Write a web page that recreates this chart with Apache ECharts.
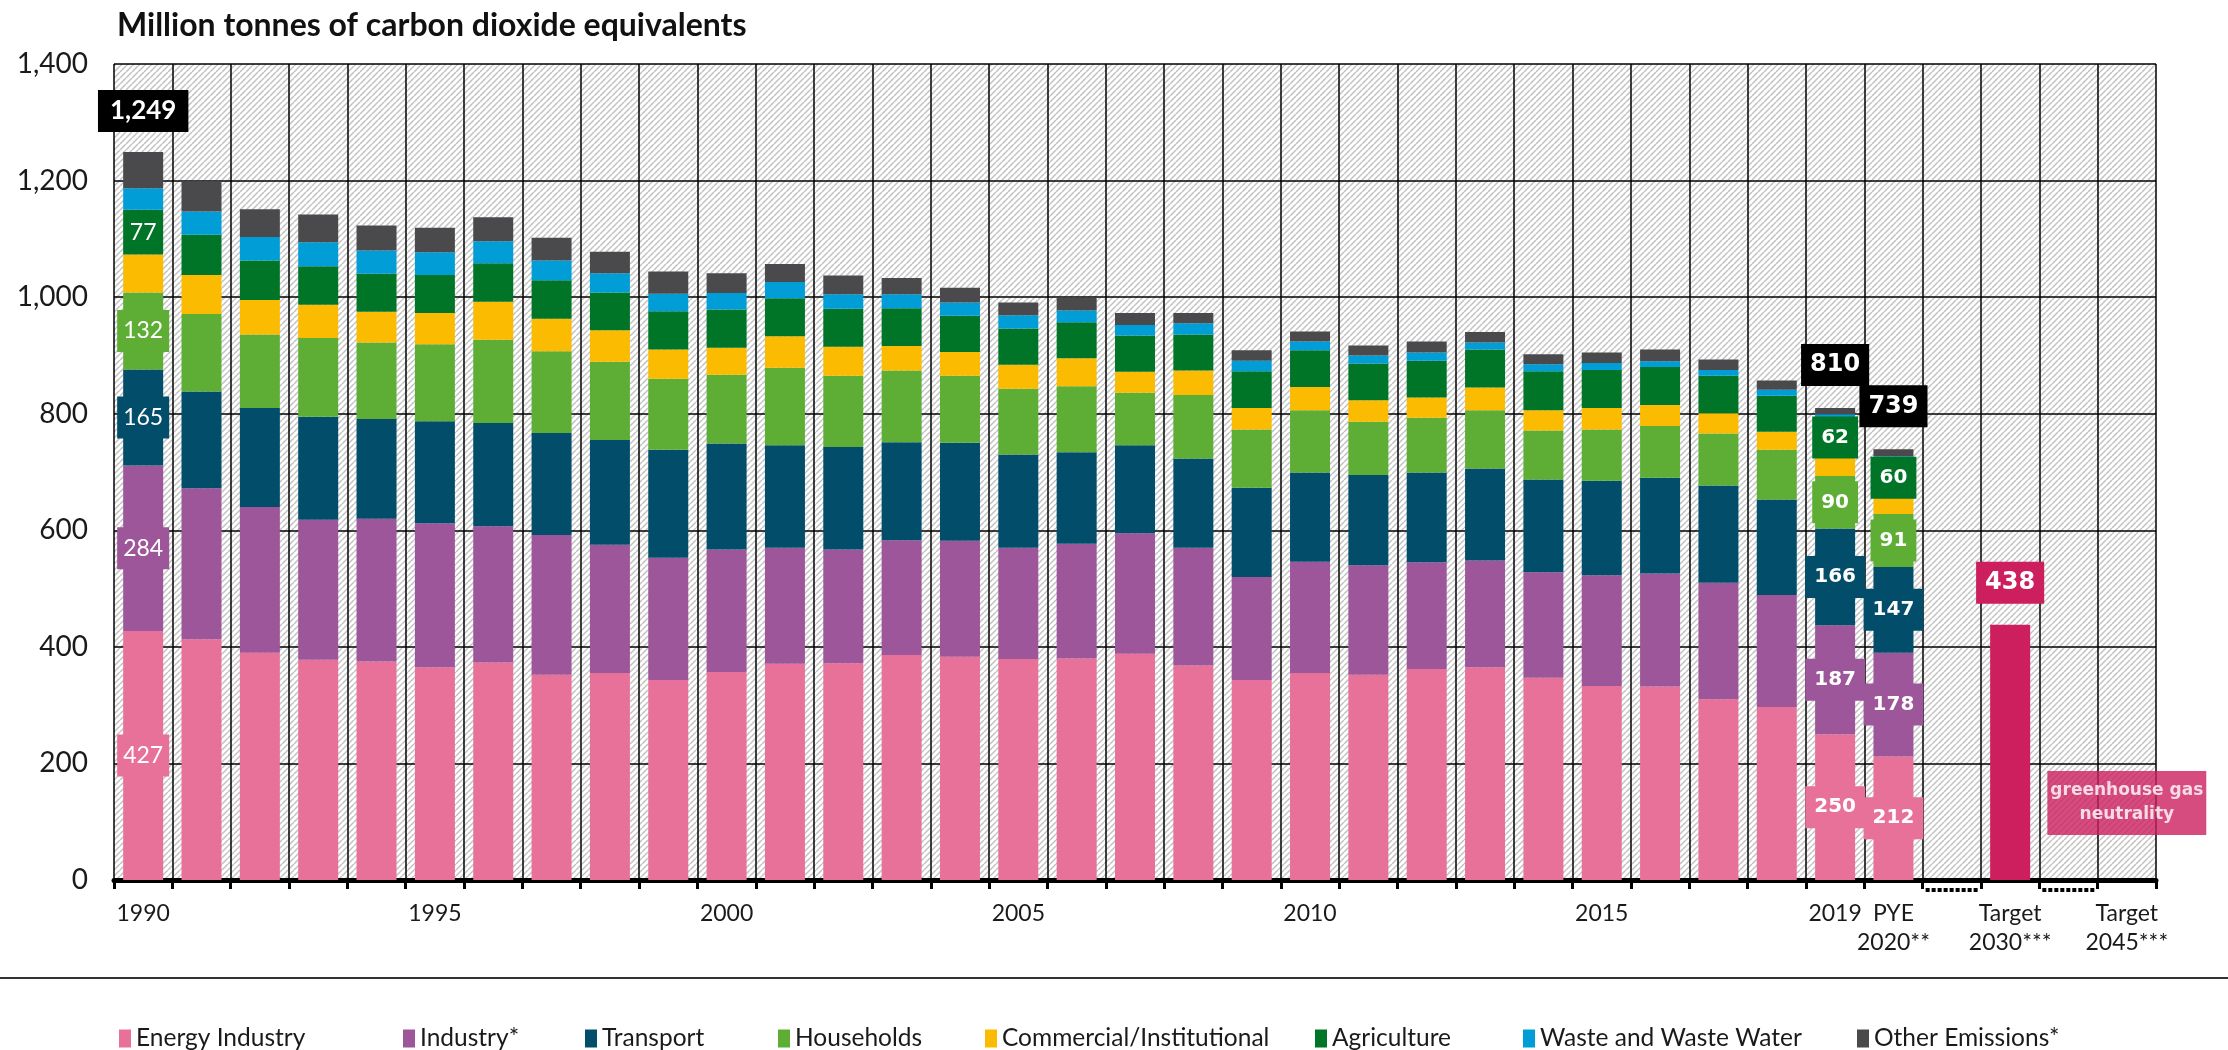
<!DOCTYPE html>
<html>
<head>
<meta charset="utf-8">
<script src="https://cdn.jsdelivr.net/npm/echarts@6/dist/echarts.min.js"></script>
<style>
  html, body { margin: 0; padding: 0; background: #fff; }
  #chart { width: 2228px; height: 1050px; }
</style>
</head>
<body>
<div id="chart"></div>
<script>
// categories: 1990-2019, previous-year estimate 2020, two targets with spacer cells
const categories = [
  '1990', '1991', '1992', '1993', '1994', '1995', '1996', '1997', '1998', '1999',
  '2000', '2001', '2002', '2003', '2004', '2005', '2006', '2007', '2008', '2009',
  '2010', '2011', '2012', '2013', '2014', '2015', '2016', '2017', '2018', '2019',
  'PYE\n2020**', '', 'Target\n2030***', '', 'Target\n2045***'
];
const tickLabels = ['1990', '1995', '2000', '2005', '2010', '2015', '2019',
  'PYE\n2020**', 'Target\n2030***', 'Target\n2045***'];

// million tonnes CO2 equivalents, 1990 ... 2019, PYE 2020
const energy = [427, 413, 390, 378, 375, 365, 373, 352, 355, 343, 357, 371, 372, 386, 383,
  379, 380, 388, 368, 343, 355, 352, 362, 365, 347, 333, 332, 310, 297, 250, 212];
const industry = [284, 259, 250, 240, 245, 247, 234, 240, 220, 210, 210, 199, 195, 197, 199,
  191, 197, 207, 202, 177, 191, 188, 183, 183, 181, 190, 194, 200, 192, 187, 178];
const transport = [165, 166, 170, 177, 171, 175, 177, 175, 180, 185, 182, 176, 176, 168, 168,
  160, 157, 151, 153, 153, 153, 155, 154, 158, 159, 162, 164, 167, 164, 166, 147];
const households = [132, 133, 126, 135, 131, 132, 143, 140, 134, 122, 118, 133, 122, 123, 115,
  113, 113, 90, 109, 100, 107, 91, 94, 100, 84, 88, 89, 89, 85, 90, 91];
const commercial = [65, 67, 59, 57, 53, 54, 65, 56, 54, 50, 46, 54, 50, 42, 41,
  41, 48, 36, 42, 37, 40, 37, 35, 39, 35, 37, 36, 35, 31, 35, 32];
const agriculture = [77, 69, 68, 66, 65, 65, 66, 66, 65, 66, 66, 65, 65, 65, 62,
  62, 62, 62, 62, 63, 63, 63, 63, 65, 67, 65, 65, 64, 62, 62, 60];
const waste = [37, 40, 40, 41, 40, 39, 38, 34, 33, 30, 28, 28, 25, 24, 23,
  23, 20, 18, 19, 18, 15, 14, 14, 12, 12, 12, 10, 10, 10, 9, 7];
const other = [62, 52, 48, 48, 43, 42, 41, 39, 37, 38, 34, 31, 32, 28, 25,
  22, 22, 21, 18, 18, 17, 17, 19, 18, 17, 18, 20, 18, 16, 11, 12];

const target2030 = 438;
const target2045 = 0;

const sectors = [
  { name: 'Energy Industry', data: energy, color: '#E8719A', tagged: true },
  { name: 'Industry*', data: industry, color: '#9C5699', tagged: true },
  { name: 'Transport', data: transport, color: '#024D6A', tagged: true },
  { name: 'Households', data: households, color: '#5EAE36', tagged: true },
  { name: 'Commercial/Institutional', data: commercial, color: '#FABB00' },
  { name: 'Agriculture', data: agriculture, color: '#007528', tagged: true },
  { name: 'Waste and Waste Water', data: waste, color: '#009DD6' },
  { name: 'Other Emissions*', data: other, color: '#4A4A4C' }
];
const legendLeft = [114, 398, 580, 773, 980, 1310, 1518, 1852];

const firstIdx = 0, lastIdx = [29, 30];
const idx2030 = categories.indexOf('Target\n2030***');
const idx2045 = categories.indexOf('Target\n2045***');
const gapIdx = [31, 33];

const total = i => sectors.reduce((s, sec) => s + sec.data[i], 0);
const fmt = v => v.toLocaleString('en-US');

function hatch() {
  const n = 6;
  const c = document.createElement('canvas');
  c.width = n; c.height = n;
  const g = c.getContext('2d');
  g.fillStyle = '#fff';
  g.fillRect(0, 0, n, n);
  g.strokeStyle = '#c2c2c2';
  g.lineWidth = 1.5;
  g.beginPath();
  for (const o of [-n, 0, n]) { g.moveTo(o, n); g.lineTo(o + n, 0); }
  g.stroke();
  return c;
}

function segLabel(i, color) {
  const old = i === firstIdx;
  return {
    show: true, position: 'inside', formatter: '{c}',
    color: '#fff', backgroundColor: color,
    fontFamily: old ? 'Lato' : 'DejaVu Sans',
    fontWeight: old ? 'normal' : 'bold',
    fontSize: old ? 23 : 20, lineHeight: 24,
    padding: old ? [9, 6] : [9, 9]
  };
}

const series = sectors.map((s, k) => ({
  name: s.name, type: 'bar', stack: 'total', barWidth: 40,
  itemStyle: { color: s.color },
  data: categories.map((c, i) => {
    const v = i < s.data.length ? s.data[i] : null;
    if (v == null) return null;
    const item = { value: v };
    if (s.tagged && (i === firstIdx || lastIdx.includes(i))) item.label = segLabel(i, s.color);
    if (k === sectors.length - 1 && (i === firstIdx || lastIdx.includes(i))) {
      const old = i === firstIdx;
      item.label = {
        show: true, position: 'top', distance: old ? 20 : 22,
        formatter: fmt(total(i)), color: '#fff', backgroundColor: '#000',
        fontFamily: old ? 'Lato' : 'DejaVu Sans', fontWeight: 'bold',
        fontSize: old ? 26 : 24, lineHeight: 26, padding: old ? [8, 12] : [8, 9]
      };
    }
    return item;
  })
}));

series.push({
  name: 'Target', type: 'bar', stack: 'total', barWidth: 40,
  itemStyle: { color: '#CD1F5E' },
  data: categories.map((c, i) => i === idx2030 ? target2030 : null),
  label: {
    show: true, position: 'top', distance: 21, formatter: '{c}',
    color: '#fff', backgroundColor: '#CD1F5E', fontFamily: 'DejaVu Sans',
    fontWeight: 'bold', fontSize: 24, lineHeight: 26, padding: [8, 9]
  }
});

series.push({
  name: 'Neutrality', type: 'scatter', symbolSize: 0, silent: true,
  data: [[idx2045, target2045]],
  label: {
    show: true, position: 'top', distance: 45,
    formatter: 'greenhouse gas\nneutrality',
    color: '#fff', backgroundColor: '#CD1F5E', fontFamily: 'DejaVu Sans',
    fontWeight: 'bold', fontSize: 17, lineHeight: 24, padding: [8, 3]
  }
});

// dotted brackets under the spacer cells
series.push({
  type: 'custom', silent: true, clip: false, z: 5,
  data: gapIdx.map(i => [i, 0]),
  renderItem(params, api) {
    const p = api.coord([api.value(0), 0]);
    const w = api.size([1, 0])[0];
    return {
      type: 'line',
      shape: { x1: p[0] - w / 2 + 3, y1: p[1] + 10, x2: p[0] + w / 2 - 3, y2: p[1] + 10 },
      style: { stroke: '#000', lineWidth: 4, lineDash: [4, 2] }
    };
  }
});

const chart = echarts.init(document.getElementById('chart'));
chart.setOption({
  animation: false,
  backgroundColor: '#fff',
  title: {
    text: 'Million tonnes of carbon dioxide equivalents',
    left: 112, top: 5,
    textStyle: { fontFamily: 'Lato', fontWeight: 'bold', fontSize: 32, color: '#111' }
  },
  legend: sectors.map((s, i) => ({
    data: [s.name], left: legendLeft[i], top: 1021, icon: 'rect',
    itemWidth: 12, itemHeight: 18, selectedMode: false,
    textStyle: { fontFamily: 'Lato', fontSize: 24.5, color: '#1a1a1a' }
  })),
  grid: {
    left: 114, right: 72, top: 64, bottom: 170, show: true,
    backgroundColor: { image: hatch(), repeat: 'repeat' }, borderWidth: 0
  },
  xAxis: {
    type: 'category', data: categories, boundaryGap: true,
    axisLine: { show: true, lineStyle: { color: '#000', width: 5 } },
    axisTick: { show: true, interval: 0, length: 9, lineStyle: { color: '#000', width: 3 } },
    splitLine: { show: true, interval: 0, lineStyle: { color: '#000', width: 1.5 } },
    axisLabel: {
      interval: (i, v) => tickLabels.includes(v),
      margin: 19, color: '#1a1a1a', fontFamily: 'Lato', fontSize: 23, lineHeight: 29
    }
  },
  yAxis: {
    type: 'value', min: 0, max: 1400, interval: 200,
    axisLine: { show: false }, axisTick: { show: false },
    splitLine: { show: true, lineStyle: { color: '#000', width: 1.5 } },
    axisLabel: { formatter: v => fmt(v), margin: 26, color: '#1a1a1a', fontFamily: 'Lato', fontSize: 28 }
  },
  graphic: [{
    type: 'line', shape: { x1: 0, y1: 978, x2: 2228, y2: 978 },
    style: { stroke: '#333', lineWidth: 2 }
  }],
  series
});
</script>
</body>
</html>
